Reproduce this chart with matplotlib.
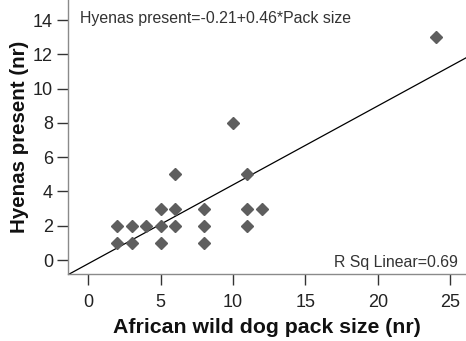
import numpy as np
import matplotlib
matplotlib.use("Agg")
import matplotlib.pyplot as plt

plt.rcParams['font.family'] = ['Liberation Sans', 'DejaVu Sans']

# African wild dog pack size vs. number of hyenas present
pack_size = [2, 2, 3, 3, 4, 5, 5, 5, 6, 6, 6, 8, 8, 8, 10, 11, 11, 11, 12, 24]
hyenas = [2, 1, 2, 1, 2, 2, 1, 3, 3, 2, 5, 3, 2, 1, 8, 5, 3, 2, 3, 13]

intercept = -0.21
slope = 0.46
r_sq = 0.69

x_ticks = [0, 5, 10, 15, 20, 25]
y_ticks = [0, 2, 4, 6, 8, 10, 12, 14]

fig = plt.figure(figsize=(4.66, 3.41), dpi=100)
ax = fig.add_axes([0.1466, 0.1956, 0.8534, 0.8044])

ax.set_xlim(-1.38, 26.1)
ax.set_ylim(-0.83, 15.17)

# Fitted line across the whole axis range
xl = np.array(ax.get_xlim())
ax.plot(xl, intercept + slope * xl, color='black', lw=0.9, zorder=2)

ax.plot(pack_size, hyenas, linestyle='none', marker='D', ms=5.8,
        color='#5e5e5e', markeredgecolor='#5e5e5e', zorder=3)

for s in ['top', 'right']:
    ax.spines[s].set_visible(False)
for s in ['left', 'bottom']:
    ax.spines[s].set_color('#8a8a8a')
    ax.spines[s].set_linewidth(1.0)

ax.set_xticks(x_ticks)
ax.set_yticks(y_ticks)
ax.tick_params(axis='both', direction='out', length=8, width=1.0,
               color='#333333', labelsize=13, labelcolor='#222222')
ax.tick_params(axis='x', pad=6)
ax.tick_params(axis='y', pad=3)

ax.set_xlabel('African wild dog pack size (nr)', fontsize=15.3,
              fontweight='bold', color='#111111', labelpad=5)
ax.set_ylabel('Hyenas present (nr)', fontsize=14.8,
              fontweight='bold', color='#111111', labelpad=3)

ax.text(80, 341 - 23, f'Hyenas present={intercept}+{slope}*Pack size',
        transform=None, fontsize=11.4, color='#333333', va='baseline')
ax.text(458, 341 - 267, f'R Sq Linear={r_sq}', transform=None,
        fontsize=11.4, color='#333333', ha='right', va='baseline')

fig.savefig('out.png', dpi=100)
